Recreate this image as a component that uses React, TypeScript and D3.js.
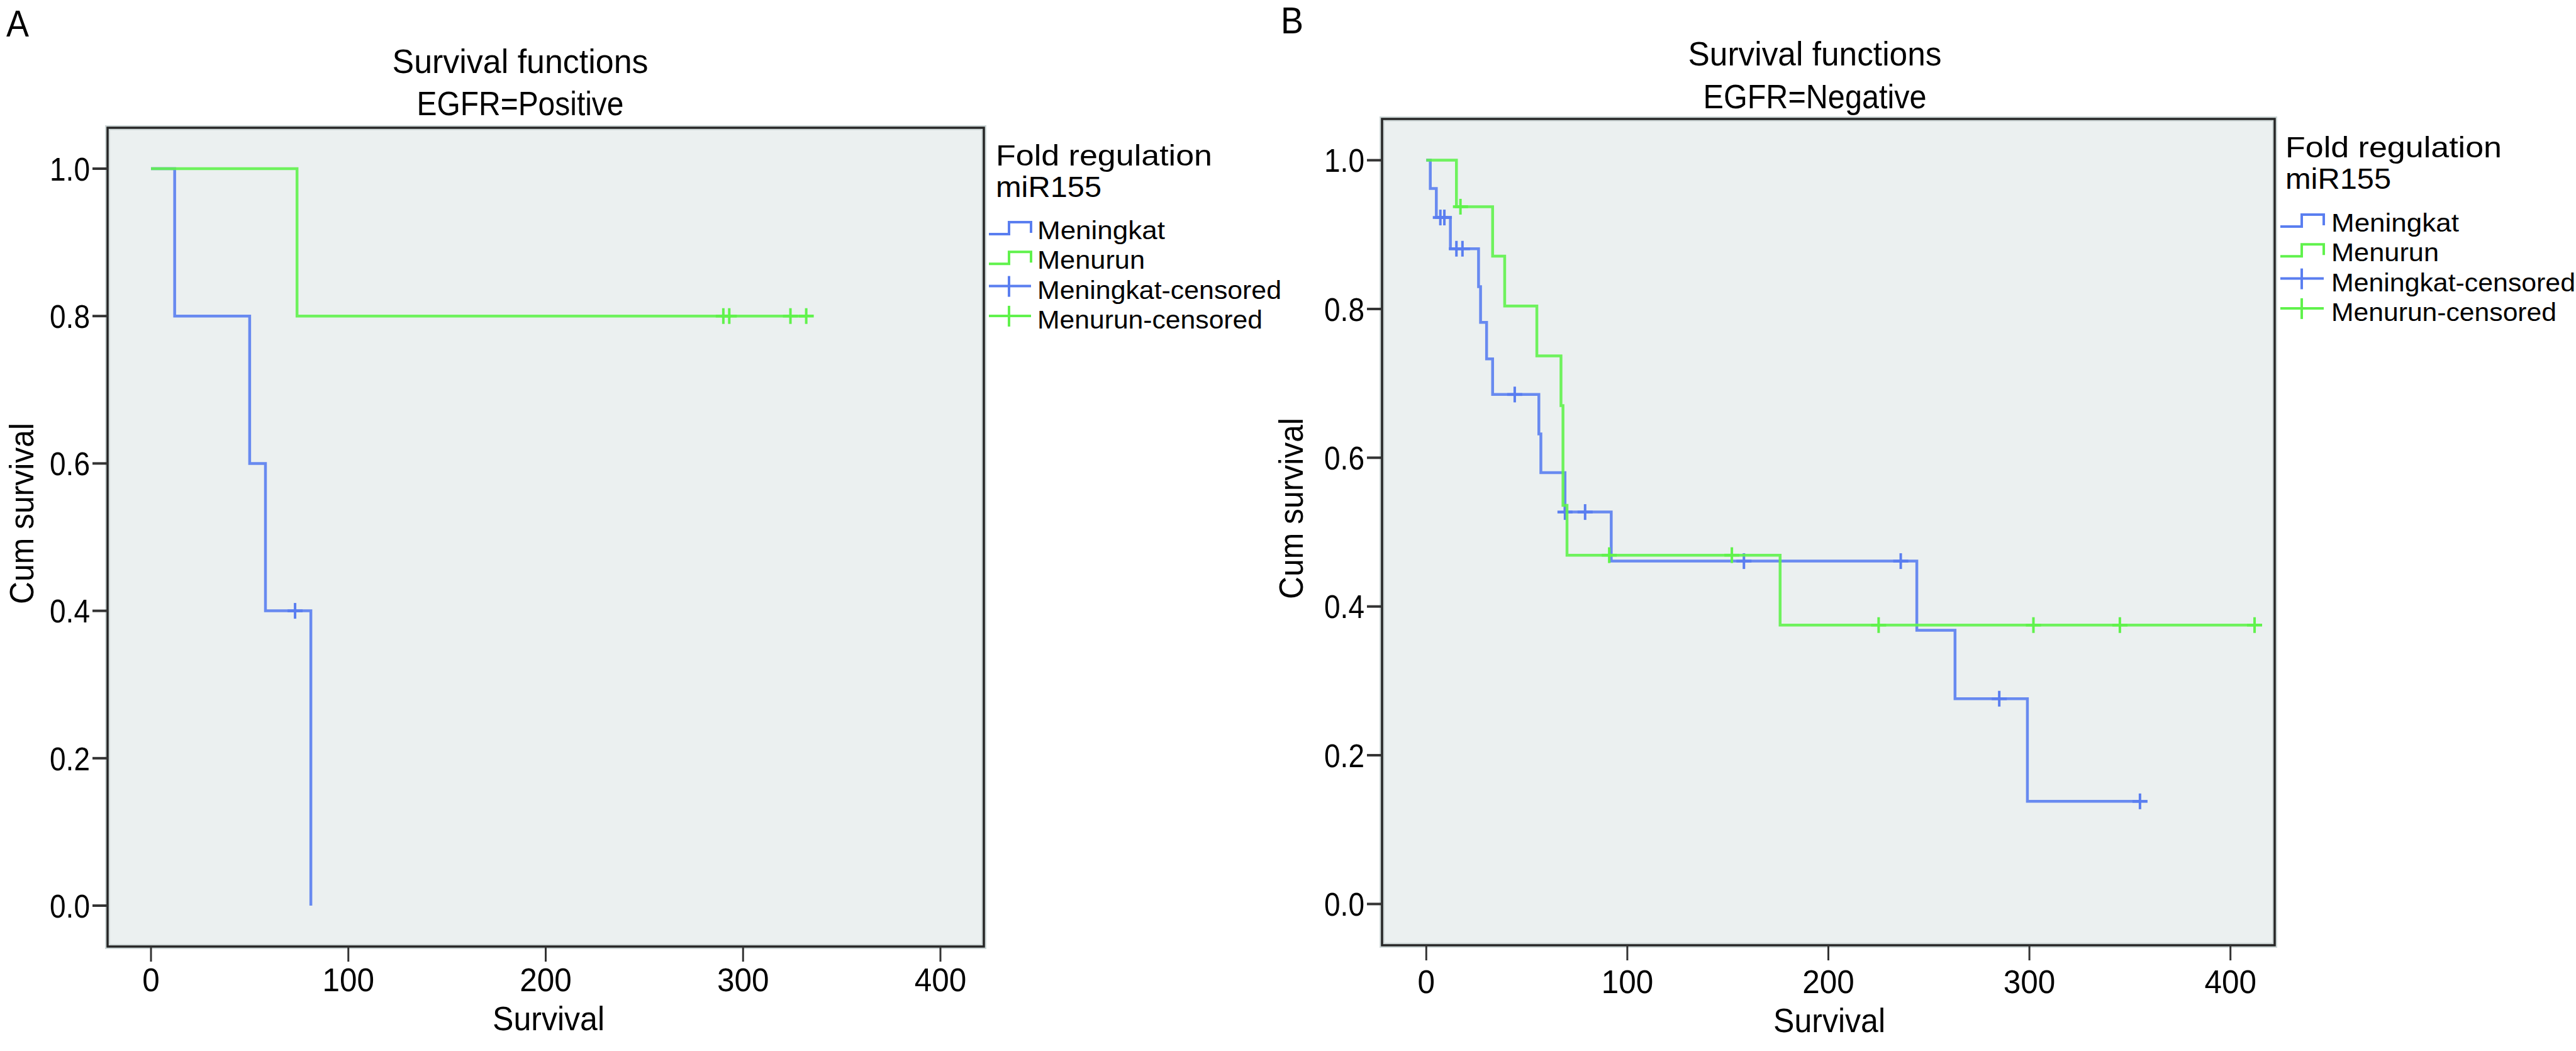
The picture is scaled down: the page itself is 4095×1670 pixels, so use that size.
import React from "react";
import * as d3 from "d3";

// ---------- data ----------
const xTicks = [0, 100, 200, 300, 400];
const yTicks = [0, 0.2, 0.4, 0.6, 0.8, 1.0];
const seriesNames = ["Meningkat", "Menurun", "Meningkat-censored", "Menurun-censored"];

// Panel A : EGFR=Positive
const aMeningkatTime = [0, 12, 50, 58, 81];
const aMeningkatSurv = [1, 0.8, 0.6, 0.4, 0];
const aMeningkatCensored = [73];
const aMenurunTime = [0, 74];
const aMenurunSurv = [1, 0.8];
const aMenurunCensored = [290, 293, 324, 332];

// Panel B : EGFR=Negative
const bMeningkatTime = [0, 2, 5, 12, 26, 27, 30, 33, 56, 57, 69, 92, 244, 263, 299];
const bMeningkatSurv = [1, 0.962, 0.923, 0.881, 0.83, 0.782, 0.733, 0.685, 0.632, 0.58, 0.527, 0.461, 0.368, 0.276, 0.138];
const bMeningkatCensored = [7, 9, 15, 18, 44, 69, 79, 158, 236, 285, 355];
const bMenurunTime = [0, 15, 33, 39, 55, 67, 68, 70, 176];
const bMenurunSurv = [1, 0.9375, 0.871, 0.804, 0.737, 0.67, 0.536, 0.469, 0.375];
const bMenurunCensored = [17, 91, 152, 225, 302, 345, 412];

// ---------- style ----------
const BLUE = "#5a7ef0";
const GREEN = "#60f24c";
const FONT = "'Liberation Sans', Arial, sans-serif";

type Series = { time: number[]; surv: number[]; censored: number[]; color: string };

function survAt(s: Series, t: number) {
  let v = s.surv[0];
  for (let i = 0; i < s.time.length; i++) if (s.time[i] <= t) v = s.surv[i];
  return v;
}

function digitWidth(label: string) {
  let w = 0;
  for (const c of label) w += c === "." ? 9 : 27.5;
  return w;
}

type PanelProps = {
  letter: string;
  letterX: number;
  letterY: number;
  subtitle: string;
  titleX: number;
  titleY1: number;
  titleY2: number;
  titleW1: number;
  titleW2: number;
  left: number;
  top: number;
  right: number;
  bottom: number;
  tickLabelY: number;
  xLabelX: number;
  xLabelY: number;
  yLabelX: number;
  yLabelY: number;
  legX: number;
  legHeadY: number;
  legSymX: number;
  legSymW: number;
  legStepX: number;
  legTextX: number;
  legItemY0: number;
  legItemDy: number;
  series: Series[];
};

const itemWidths = [203, 171, 388, 358];

function Panel(p: PanelProps) {
  const x = d3.scaleLinear().domain([-22, 422]).range([p.left, p.right]);
  const y = d3.scaleLinear().domain([-0.0555, 1.0555]).range([p.bottom, p.top]);
  const line = d3
    .line<[number, number]>()
    .x((d) => x(d[0]))
    .y((d) => y(d[1]))
    .curve(d3.curveStepAfter);

  return (
    <g>
      <text x={p.letterX} y={p.letterY} fontFamily={FONT} fontSize={60} textLength={36} lengthAdjust="spacingAndGlyphs">
        {p.letter}
      </text>
      <text x={p.titleX} y={p.titleY1} fontFamily={FONT} fontSize={54} textAnchor="middle" textLength={p.titleW1} lengthAdjust="spacingAndGlyphs">
        Survival functions
      </text>
      <text x={p.titleX} y={p.titleY2} fontFamily={FONT} fontSize={54} textAnchor="middle" textLength={p.titleW2} lengthAdjust="spacingAndGlyphs">
        {p.subtitle}
      </text>

      {/* plot area */}
      <rect x={p.left} y={p.top} width={p.right - p.left} height={p.bottom - p.top} fill="#ebf0f0" stroke="#cfd8d8" strokeWidth={8} />
      <rect x={p.left} y={p.top} width={p.right - p.left} height={p.bottom - p.top} fill="none" stroke="#262626" strokeWidth={3.5} />

      {/* y axis */}
      {yTicks.map((t) => (
        <g key={"y" + t}>
          <line x1={p.left - 24} x2={p.left} y1={y(t)} y2={y(t)} stroke="#333" strokeWidth={4} />
          <text x={p.left - 28} y={y(t)} dy="0.36em" fontFamily={FONT} fontSize={52} textAnchor="end" textLength={digitWidth(t.toFixed(1))} lengthAdjust="spacingAndGlyphs">
            {t.toFixed(1)}
          </text>
        </g>
      ))}
      {/* x axis */}
      {xTicks.map((t) => (
        <g key={"x" + t}>
          <line x1={x(t)} x2={x(t)} y1={p.bottom} y2={p.bottom + 24} stroke="#333" strokeWidth={3} />
          <text x={x(t)} y={p.tickLabelY} fontFamily={FONT} fontSize={52} textAnchor="middle" textLength={digitWidth(String(t))} lengthAdjust="spacingAndGlyphs">
            {t}
          </text>
        </g>
      ))}
      <text x={p.xLabelX} y={p.xLabelY} fontFamily={FONT} fontSize={54} textAnchor="middle" textLength={178} lengthAdjust="spacingAndGlyphs">
        Survival
      </text>
      <text
        transform={`translate(${p.yLabelX},${p.yLabelY}) rotate(-90)`}
        fontFamily={FONT}
        fontSize={54}
        textAnchor="middle"
        textLength={288}
        lengthAdjust="spacingAndGlyphs"
      >
        Cum survival
      </text>

      {/* curves */}
      {p.series.map((s, i) => {
        const pts: [number, number][] = s.time.map((t, j) => [t, s.surv[j]] as [number, number]);
        const end = Math.max(s.time[s.time.length - 1], ...s.censored);
        if (end > s.time[s.time.length - 1]) pts.push([end, s.surv[s.surv.length - 1]]);
        return (
          <g key={"s" + i}>
            <path d={line(pts) || ""} fill="none" stroke={s.color} strokeWidth={4.5} strokeOpacity={0.9} />
            {s.censored.map((c, k) => (
              <g key={k}>
                <line x1={x(c)} x2={x(c)} y1={y(survAt(s, c)) - 12.5} y2={y(survAt(s, c)) + 12.5} stroke={s.color} strokeWidth={4} />
                <line x1={x(c) - 12} x2={x(c) + 12} y1={y(survAt(s, c))} y2={y(survAt(s, c))} stroke={s.color} strokeWidth={4.5} />
              </g>
            ))}
          </g>
        );
      })}

      {/* legend */}
      <text x={p.legX} y={p.legHeadY} fontFamily={FONT} fontSize={46} textLength={344} lengthAdjust="spacingAndGlyphs">
        Fold regulation
      </text>
      <text x={p.legX} y={p.legHeadY + 50} fontFamily={FONT} fontSize={46} textLength={168} lengthAdjust="spacingAndGlyphs">
        miR155
      </text>
      {seriesNames.map((name, i) => {
        const yy = p.legItemY0 + i * p.legItemDy;
        const color = i % 2 === 0 ? BLUE : GREEN;
        const x0 = p.legSymX;
        const x1 = p.legSymX + p.legSymW;
        return (
          <g key={name}>
            {i < 2 ? (
              <path
                d={`M${x0},${yy - 8} H${p.legStepX} V${yy - 27} H${x1} V${yy - 10}`}
                fill="none"
                stroke={color}
                strokeWidth={4}
              />
            ) : (
              <g>
                <line x1={x0} x2={x1} y1={yy - 20} y2={yy - 20} stroke={color} strokeWidth={4} />
                <line x1={p.legStepX} x2={p.legStepX} y1={yy - 36} y2={yy - 3} stroke={color} strokeWidth={4} />
              </g>
            )}
            <text x={p.legTextX} y={yy} fontFamily={FONT} fontSize={40} textLength={itemWidths[i]} lengthAdjust="spacingAndGlyphs">
              {name}
            </text>
          </g>
        );
      })}
    </g>
  );
}

export default function App() {
  const panelA: PanelProps = {
    letter: "A",
    letterX: 10,
    letterY: 58,
    subtitle: "EGFR=Positive",
    titleX: 827,
    titleY1: 116,
    titleY2: 183,
    titleW1: 407,
    titleW2: 329,
    left: 171,
    top: 203,
    right: 1564,
    bottom: 1504,
    tickLabelY: 1575,
    xLabelX: 872,
    xLabelY: 1637,
    yLabelX: 53,
    yLabelY: 816,
    legX: 1583,
    legHeadY: 263,
    legSymX: 1572,
    legSymW: 67,
    legStepX: 1604,
    legTextX: 1649,
    legItemY0: 380,
    legItemDy: 47.3,
    series: [
      { time: aMeningkatTime, surv: aMeningkatSurv, censored: aMeningkatCensored, color: BLUE },
      { time: aMenurunTime, surv: aMenurunSurv, censored: aMenurunCensored, color: GREEN },
    ],
  };
  const panelB: PanelProps = {
    letter: "B",
    letterX: 2036,
    letterY: 53,
    subtitle: "EGFR=Negative",
    titleX: 2885,
    titleY1: 104,
    titleY2: 172,
    titleW1: 403,
    titleW2: 355,
    left: 2197,
    top: 189,
    right: 3616,
    bottom: 1502,
    tickLabelY: 1578,
    xLabelX: 2908,
    xLabelY: 1640,
    yLabelX: 2071,
    yLabelY: 808,
    legX: 3633,
    legHeadY: 250,
    legSymX: 3625,
    legSymW: 69,
    legStepX: 3659,
    legTextX: 3706,
    legItemY0: 368,
    legItemDy: 47.3,
    series: [
      { time: bMeningkatTime, surv: bMeningkatSurv, censored: bMeningkatCensored, color: BLUE },
      { time: bMenurunTime, surv: bMenurunSurv, censored: bMenurunCensored, color: GREEN },
    ],
  };
  return (
    <svg
      width={4095}
      height={1670}
      viewBox="0 0 4095 1670"
      style={{ position: "absolute", left: 0, top: 0, display: "block", background: "#fff" }}
    >
      <rect x={0} y={0} width={4095} height={1670} fill="#fff" />
      <Panel {...panelA} />
      <Panel {...panelB} />
    </svg>
  );
}
